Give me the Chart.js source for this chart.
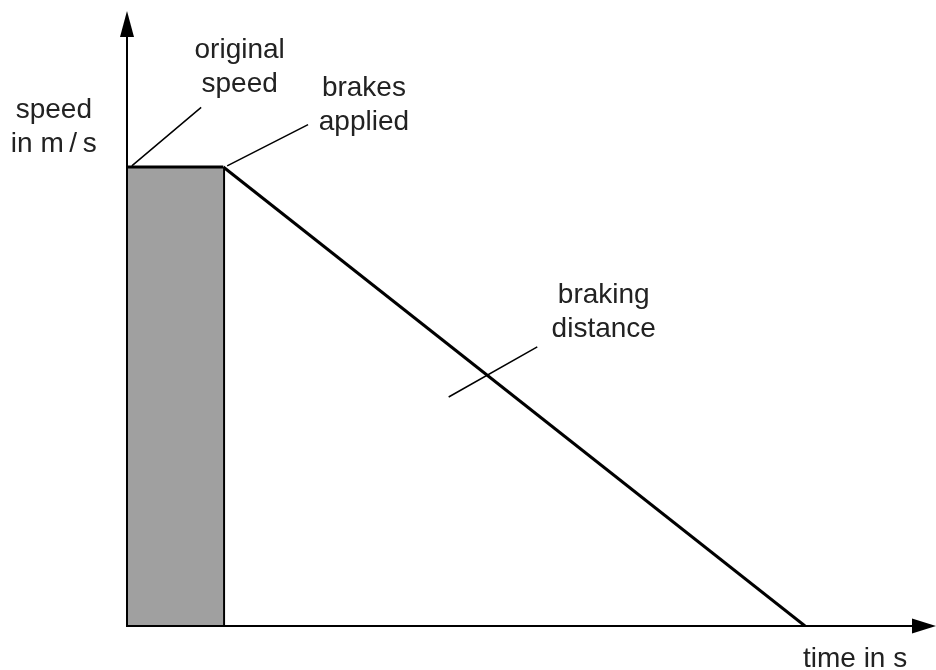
<!DOCTYPE html>
<html>
<head>
<meta charset="utf-8">
<script src="https://cdn.jsdelivr.net/npm/chart.js@4"></script>
<style>
  html, body { margin: 0; padding: 0; background: #fff; }
  #wrap { width: 936px; height: 670px; position: relative; }
</style>
</head>
<body>
<div id="wrap"><canvas id="chart"></canvas></div>
<script>
// speed-time graph of a stopping car
const reactionTimes = [0, 1];       // s, thinking distance part
const reactionSpeeds = [20, 20];    // m/s, constant speed
const brakingTimes = [1, 7.04];     // s, brakes applied -> stopped
const brakingSpeeds = [20, 0];      // m/s
const timeMax = 8.4;
const speedMax = 26.8;

// labels: text lines, anchor in data units (x centre, first baseline)
const noteLines = [['original', 'speed'], ['brakes', 'applied'], ['braking', 'distance'], ['time in s'], ['speed', 'in m\u2009/\u2009s']];
const noteX = [1.17, 2.46, 4.95, 7.56, -0.76];
const noteY = [24.75, 23.1, 14.07, -1.79, 22.12];

// leader lines in data units
const leaderFrom = [[0.05, 20.05], [1.04, 20.05], [3.34, 9.98]];
const leaderTo = [[0.77, 22.6], [1.88, 21.85], [4.26, 12.16]];

const toPts = (xs, ys) => xs.map((x, i) => ({ x: x, y: ys[i] }));

const axesAndNotes = {
  id: 'axesAndNotes',
  afterDatasetsDraw(chart) {
    const { ctx, scales: { x, y } } = chart;
    const x0 = x.getPixelForValue(0);
    const y0 = y.getPixelForValue(0);
    const xEnd = x.getPixelForValue(timeMax);
    const yEnd = y.getPixelForValue(speedMax);

    ctx.save();
    ctx.strokeStyle = '#000';
    ctx.fillStyle = '#000';
    ctx.lineWidth = 2;
    // axes
    ctx.beginPath();
    ctx.moveTo(x0, y0);
    ctx.lineTo(x0, yEnd + 20);
    ctx.moveTo(x0 - 1, y0);
    ctx.lineTo(xEnd - 20, y0);
    ctx.stroke();
    // arrow heads
    ctx.beginPath();
    ctx.moveTo(x0, yEnd);
    ctx.lineTo(x0 - 7, yEnd + 26);
    ctx.lineTo(x0 + 7, yEnd + 26);
    ctx.closePath();
    ctx.fill();
    ctx.beginPath();
    ctx.moveTo(xEnd, y0);
    ctx.lineTo(xEnd - 24, y0 - 7.5);
    ctx.lineTo(xEnd - 24, y0 + 7.5);
    ctx.closePath();
    ctx.fill();

    // leader lines
    ctx.lineWidth = 1.5;
    ctx.beginPath();
    leaderFrom.forEach((p, i) => {
      ctx.moveTo(x.getPixelForValue(p[0]), y.getPixelForValue(p[1]));
      ctx.lineTo(x.getPixelForValue(leaderTo[i][0]), y.getPixelForValue(leaderTo[i][1]));
    });
    ctx.stroke();

    // text
    ctx.fillStyle = '#222';
    ctx.font = '28px "Liberation Sans", Arial, Helvetica, sans-serif';
    ctx.textAlign = 'center';
    ctx.textBaseline = 'alphabetic';
    noteLines.forEach((lines, i) => {
      const px = x.getPixelForValue(noteX[i]);
      const py = y.getPixelForValue(noteY[i]);
      lines.forEach((t, j) => ctx.fillText(t, px, py + j * 34));
    });
    ctx.restore();
  }
};

new Chart(document.getElementById('chart'), {
  type: 'scatter',
  data: {
    datasets: [
      {
        data: toPts(reactionTimes, reactionSpeeds),
        showLine: true,
        fill: 'origin',
        backgroundColor: '#a0a0a0',
        borderColor: '#000',
        borderWidth: 3,
        pointRadius: 0
      },
      {
        data: toPts([reactionTimes[1], reactionTimes[1]], [0, reactionSpeeds[1]]),
        showLine: true,
        borderColor: '#000',
        borderWidth: 3.5,
        pointRadius: 0
      },
      {
        data: toPts(brakingTimes, brakingSpeeds),
        showLine: true,
        borderColor: '#000',
        borderWidth: 3,
        pointRadius: 0
      }
    ]
  },
  options: {
    responsive: true,
    maintainAspectRatio: false,
    animation: false,
    layout: { padding: { left: 127, top: 11, right: 0, bottom: 44 } },
    plugins: { legend: { display: false }, tooltip: { enabled: false } },
    scales: {
      x: { type: 'linear', min: 0, max: timeMax, display: false },
      y: { type: 'linear', min: 0, max: speedMax, display: false }
    }
  },
  plugins: [axesAndNotes]
});
</script>
</body>
</html>
